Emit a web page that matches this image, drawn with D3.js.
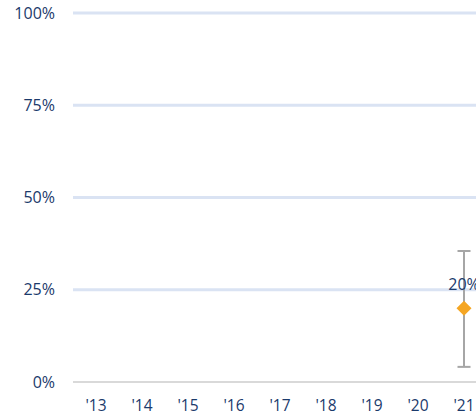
<html>
<head>
    <script src="https://d3js.org/d3.v7.min.js"></script>
    <style>
        body { margin: 0; background: #fff; }
        text { font-family: "Open Sans", sans-serif; fill: #1b3a6b; }
    </style>
</head>
<body>
    <script>
        var years = ["'13", "'14", "'15", "'16", "'17", "'18", "'19", "'20", "'21"];
        var pointYears = ["'21"];
        var pointValues = [0.20];
        var lowValues = [0.041];
        var highValues = [0.355];
        var yTicks = [0, 0.25, 0.5, 0.75, 1];

        var width = 476, height = 417;
        var svg = d3.select("body").append("svg").attr("width", width).attr("height", height);

        var x = d3.scaleBand().domain(years).range([73, 73 + 46 * years.length]);
        var y = d3.scaleLinear().domain([0, 1]).range([382, 13]);

        // gridlines
        svg.selectAll("line.grid").data(yTicks.filter(function(d) { return d > 0; })).enter().append("line")
            .attr("x1", 73).attr("x2", width)
            .attr("y1", function(d) { return y(d); }).attr("y2", function(d) { return y(d); })
            .attr("stroke", "#dae3f3").attr("stroke-width", 3);

        // base line
        svg.append("line").attr("x1", 73).attr("x2", width).attr("y1", y(0)).attr("y2", y(0))
            .attr("stroke", "#d9d9d9").attr("stroke-width", 2);

        // y labels
        svg.selectAll("text.ylab").data(yTicks).enter().append("text")
            .attr("x", 55).attr("y", function(d) { return y(d) + 5.5; })
            .attr("text-anchor", "end").attr("font-size", "16px")
            .text(function(d) { return d3.format(".0%")(d); });

        // x labels
        svg.selectAll("text.xlab").data(years).enter().append("text")
            .attr("x", function(d) { return x(d) + x.bandwidth() / 2; })
            .attr("y", 411)
            .attr("text-anchor", "middle").attr("font-size", "15.5px")
            .text(function(d) { return d; });

        // error bars
        var g = svg.selectAll("g.pt").data(pointYears).enter().append("g");
        g.append("line")
            .attr("x1", function(d) { return x(d) + x.bandwidth() / 2; })
            .attr("x2", function(d) { return x(d) + x.bandwidth() / 2; })
            .attr("y1", function(d, i) { return y(highValues[i]); })
            .attr("y2", function(d, i) { return y(lowValues[i]); })
            .attr("stroke", "#a6a6a6").attr("stroke-width", 2);
        [highValues, lowValues].forEach(function(arr) {
            g.append("line")
                .attr("x1", function(d) { return x(d) + x.bandwidth() / 2 - 6.5; })
                .attr("x2", function(d) { return x(d) + x.bandwidth() / 2 + 6.5; })
                .attr("y1", function(d, i) { return y(arr[i]); })
                .attr("y2", function(d, i) { return y(arr[i]); })
                .attr("stroke", "#a6a6a6").attr("stroke-width", 2);
        });

        // diamond
        g.append("path")
            .attr("d", "M0,-7.5L7.5,0L0,7.5L-7.5,0Z")
            .attr("transform", function(d, i) { return "translate(" + (x(d) + x.bandwidth() / 2) + "," + y(pointValues[i]) + ")"; })
            .attr("fill", "#f5a623");

        // value label
        g.append("text")
            .attr("x", function(d) { return x(d) + x.bandwidth() / 2; })
            .attr("y", function(d, i) { return y(pointValues[i]) - 18; })
            .attr("text-anchor", "middle").attr("font-size", "16px")
            .text(function(d, i) { return d3.format(".0%")(pointValues[i]); });
    </script>
</body>
</html>
